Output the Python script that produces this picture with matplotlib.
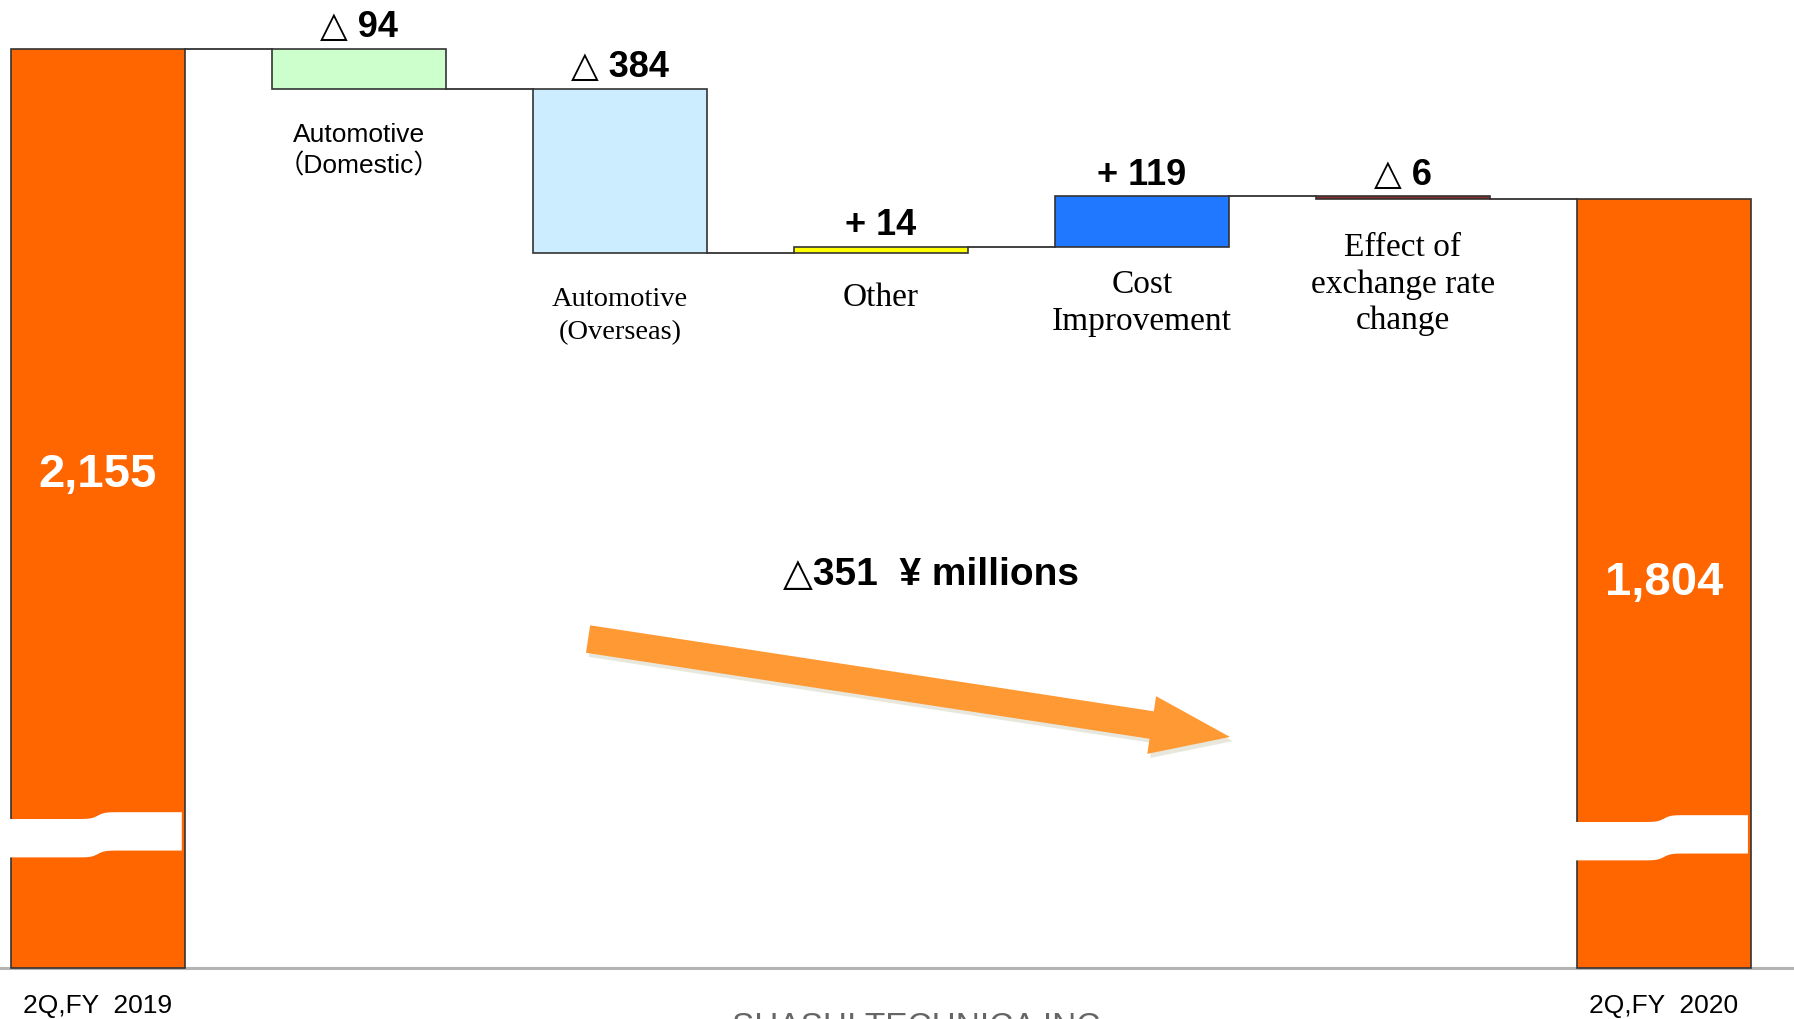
import numpy as np
import matplotlib
matplotlib.use('Agg')
import matplotlib.pyplot as plt
import matplotlib.patheffects as pe

# Data

start_label = '2Q,FY  2019'
end_label = '2Q,FY  2020'
start_value = 2155
end_value = 1804

steps = ['Automotive\n（Domestic）', 'Automotive\n(Overseas)', 'Other',
         'Cost\nImprovement', 'Effect of\nexchange rate\nchange']
changes = [-94, -384, 14, 119, -6]
change_text = ['△ 94', '△ 384', '+ 14', '+ 119', '△ 6']
total_text = '△351  ¥ millions'
footer = 'SHASHI TECHNICA INC.'

# Styles

step_colors = ['#CCFFCC', '#CCECFF', '#FFFF00', '#1F78FF', '#8E2A2A']
# (family, size, linespacing, offset below bar in points)
step_fonts = [(['Liberation Sans', 'Noto Sans CJK JP'], 19, 1.3, -24),
              (['Liberation Serif'], 20.5, 1.4, -24),
              (['Liberation Serif'], 24, 1.2, -21),
              (['Liberation Serif'], 24, 1.25, -16),
              (['Liberation Serif'], 24, 1.25, -24)]
SANS = ['Liberation Sans', 'DejaVu Sans']
ORANGE = '#FF6600'
EDGE = '#333333'
w = 0.667

fig = plt.figure(figsize=(17.94, 10.2), dpi=100)
ax = fig.add_axes([0, 0, 1, 1])
ax.set_xlim(-0.375, 6.498)
ax.set_ylim(-120, 2272)
ax.axis('off')

n = len(changes)
x_end = n + 1

# baseline
ax.axhline(0, color='#b4b4b4', lw=2.2, zorder=1)

# start / end totals
for x, v, ly in [(0, start_value, 1158), (x_end, end_value, 905)]:
    ax.bar(x, v, width=w, color=ORANGE, edgecolor=EDGE, linewidth=1.2, zorder=3)
    ax.text(x, ly, f'{v:,}', color='white', fontsize=34, fontweight='bold',
            ha='center', va='center', family=SANS, zorder=6)


def draw_break(x, level):
    xs = np.linspace(x - w / 2 - 0.006, x + w / 2 - 0.012, 80)
    shift = 8 * np.tanh((xs - x) / 0.025)
    top = level + 45 + shift
    bot = level - 45 + shift
    ax.fill(np.r_[xs, xs[::-1]], np.r_[top, bot[::-1]], color='white',
            lw=0, zorder=4)


draw_break(0, 312)
draw_break(x_end, 305)

# waterfall steps
level = start_value
for i, ch in enumerate(changes):
    x = i + 1
    new = level + ch
    ax.bar(x, abs(ch), bottom=min(level, new), width=w, color=step_colors[i],
           edgecolor=EDGE, linewidth=1.2, zorder=3)
    ax.plot([x - 1 + w / 2, x - w / 2], [level, level], color=EDGE, lw=1.3,
            zorder=2)
    ax.annotate(change_text[i], (x, max(level, new)), xytext=(0, 9),
                textcoords='offset points', ha='center', va='baseline',
                fontsize=26, fontweight='bold', family=SANS)
    fam, size, lsp, off = step_fonts[i]
    ax.annotate(steps[i], (x, min(level, new)), xytext=(0, off),
                textcoords='offset points', ha='center', va='top',
                fontsize=size, family=fam, linespacing=lsp)
    level = new
ax.plot([n + w / 2, x_end - w / 2], [level, level], color=EDGE, lw=1.3,
        zorder=2)

# period labels
for x, lab in [(0, start_label), (x_end, end_label)]:
    ax.annotate(lab, (x, 0), xytext=(0, -27), textcoords='offset points',
                ha='center', va='center', fontsize=19, family=SANS)

# total change and arrow
ax.text(0.519, 1 - 575 / 1020, total_text, transform=ax.transAxes,
        ha='center', va='center', fontsize=28, fontweight='bold', family=SANS)

ax.annotate('', xy=(0.6856, 0.2765), xytext=(0.3278, 0.3725),
            xycoords='axes fraction', textcoords='axes fraction',
            arrowprops=dict(arrowstyle='simple,head_length=2.85,head_width=2.1,tail_width=1.0',
                            mutation_scale=20, fc='#FF9933', ec='none',
                            shrinkA=0, shrinkB=0,
                            path_effects=[pe.SimplePatchShadow(offset=(2, -3), shadow_rgbFace='#d8d8c8', alpha=0.6),
                                          pe.Normal()]))

fig.text(0.513, 1 - 1012 / 1020, footer, ha='center', va='top', fontsize=24,
         color='#666666', family=SANS)

fig.savefig('out.png', dpi=100)
